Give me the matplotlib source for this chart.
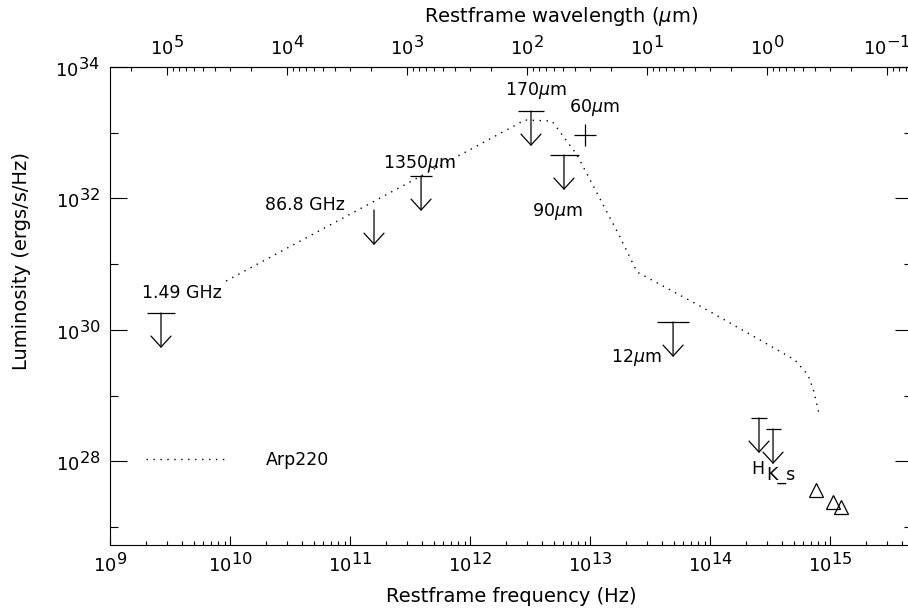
import numpy as np
import matplotlib
matplotlib.use('Agg')
import matplotlib.pyplot as plt
import matplotlib.ticker as mticker
import matplotlib.transforms as mtransforms
import matplotlib._mathtext as _mt

# bigger exponents on the power-of-ten tick labels
_mt.SHRINK_FACTOR = 0.9

C_UM = 2.998e14  # speed of light in micron/s

# Arp220 template (restframe frequency, luminosity)
ARP_NU = [10**9.967, 10**12.458, 10**12.683, 10**12.892, 10**13.25, 10**13.392,
          10**13.917, 10**14.417, 10**14.708, 10**14.817, 10**14.867, 10**14.908]
ARP_L = [10**30.743, 10**33.193, 10**33.178, 10**32.661, 10**31.412, 10**30.880,
         10**30.362, 10**29.845, 10**29.540, 10**29.312, 10**29.053, 10**28.718]

# upper limits
LIM_NAMES = ['1.49 GHz', '86.8 GHz', '1350$\\mu$m', '170$\\mu$m', '90$\\mu$m',
             '12$\\mu$m', 'H', 'K_s']
LIM_NU = [10**9.425, 10**11.2, 10**11.592, 10**12.508, 10**12.783,
          10**13.692, 10**14.408, 10**14.525]
LIM_L = [10**30.256, 10**31.823, 10**32.341, 10**33.330, 10**32.661,
         10**30.119, 10**28.658, 10**28.490]

# detection
DET_NAME = '60$\\mu$m'
DET_NU = [10**12.958]
DET_L = [10**32.965]

# optical points
OPT_NU = [10**14.883, 10**15.025, 10**15.092]
OPT_L = [10**27.562, 10**27.379, 10**27.303]

# layout / style (pixels)
BAR_PX = [28, 0, 22, 27, 29, 32, 16, 15]
LAB_OFF = [(21, -20), (-69, -5), (-2, -13), (5, -21), (-7, 57), (-37, 36), (-1, 51), (8, 46)]
DET_OFF = (9, -28)

plt.rcParams['font.family'] = ['DejaVu Sans']
plt.rcParams['mathtext.fontset'] = 'dejavusans'

W, H = 908, 614
fig = plt.figure(figsize=(W / 100, H / 100), dpi=100)
ax = fig.add_axes([110 / W, 69 / H, 802 / W, 478 / H])
ax.set_xscale('log')
ax.set_yscale('log')
ax.set_xlim(1e9, 10**15.683)
ax.set_ylim(10**26.725, 1e34)

for s in ax.spines.values():
    s.set_linewidth(0.8)

# template
ax.plot(ARP_NU, ARP_L, color='k', lw=1.0, ls=(0, (1, 4)), label='Arp220')

# upper limits: bar + arrow
drop = mtransforms.ScaledTranslation(0, -35 / 100, fig.dpi_scale_trans)
for x, y, w in zip(LIM_NU, LIM_L, BAR_PX):
    if w:
        ax.plot([x], [y], marker='_', ms=w * 0.72, mew=0.9, color='k')
    ax.annotate('', xy=(x, y), xycoords=ax.transData + drop, xytext=(x, y),
                textcoords='data',
                arrowprops=dict(arrowstyle='->,head_length=0.79,head_width=0.72',
                                lw=0.9, color='k', shrinkA=0, shrinkB=0))
for name, x, y, off in zip(LIM_NAMES, LIM_NU, LIM_L, LAB_OFF):
    ax.annotate(name, xy=(x, y), xytext=(off[0] * 0.72, -off[1] * 0.72),
                textcoords='offset points', ha='center', va='center', fontsize=12.5)

# detection
ax.plot(DET_NU, DET_L, marker='+', ms=16, mew=0.9, color='k', ls='none')
ax.annotate(DET_NAME, xy=(DET_NU[0], DET_L[0]), xytext=(DET_OFF[0] * 0.72, -DET_OFF[1] * 0.72),
            textcoords='offset points', ha='center', va='center', fontsize=12.5)

# optical
ax.plot(OPT_NU, OPT_L, marker='^', ms=9.5, mfc='none', mec='k', mew=0.9, ls='none')

# legend
leg = ax.legend(loc='center left', bbox_to_anchor=(36 / 802, 85 / 478), frameon=False,
                fontsize=12.5, handlelength=4.5, handletextpad=2.4, borderpad=0,
                borderaxespad=0)

# ticks
ax.xaxis.set_major_locator(mticker.LogLocator(base=10, numticks=20))
ax.xaxis.set_minor_locator(mticker.LogLocator(base=10, subs=np.arange(2, 10), numticks=20))
ax.xaxis.set_minor_formatter(mticker.NullFormatter())
ax.xaxis.set_major_formatter(mticker.LogFormatterMathtext())
ax.yaxis.set_major_locator(mticker.FixedLocator(10.0 ** np.arange(28, 35, 2)))
ax.yaxis.set_minor_locator(mticker.FixedLocator(10.0 ** np.arange(27, 34, 2)))
ax.yaxis.set_minor_formatter(mticker.NullFormatter())
ax.yaxis.set_major_formatter(mticker.LogFormatterMathtext())
ax.tick_params(axis='x', which='both', direction='in', top=False, bottom=True,
               labelsize=13, width=0.8, pad=5)
ax.tick_params(axis='x', which='major', length=6.5)
ax.tick_params(axis='x', which='minor', length=2.9)
ax.tick_params(axis='y', which='both', direction='in', left=True, right=True,
               labelsize=13, width=0.8, pad=7)
ax.tick_params(axis='y', which='major', length=12)
ax.tick_params(axis='y', which='minor', length=5.8)

sec = ax.secondary_xaxis('top', functions=(lambda n: C_UM / n, lambda l: C_UM / l))
sec.xaxis.set_major_locator(mticker.LogLocator(base=10, numticks=20))
sec.xaxis.set_minor_locator(mticker.LogLocator(base=10, subs=np.arange(2, 10), numticks=20))
sec.xaxis.set_minor_formatter(mticker.NullFormatter())
sec.xaxis.set_major_formatter(mticker.LogFormatterMathtext())
sec.tick_params(axis='x', which='both', direction='in', labelsize=13, width=0.8, pad=6)
sec.tick_params(axis='x', which='major', length=6)
sec.tick_params(axis='x', which='minor', length=3)

ax.set_xlabel('Restframe frequency (Hz)', fontsize=14)
ax.xaxis.set_label_coords(0.5, (545 - 597) / 478)
ax.xaxis.label.set_va('center')
ax.set_ylabel('Luminosity (ergs/s/Hz)', fontsize=14)
ax.yaxis.set_label_coords((22 - 110) / 802, (545 - 261) / 478)
ax.yaxis.label.set_va('center')
fig.text(561 / W, 1 - 17 / H, 'Restframe wavelength ($\\mu$m)', fontsize=14,
         ha='center', va='center')

fig.savefig('out.png', dpi=100)
